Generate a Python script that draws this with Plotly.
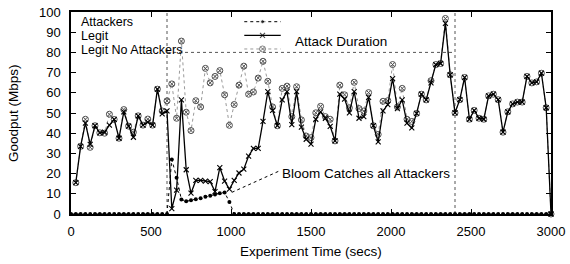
import plotly.graph_objects as go

# ---------------- data ----------------
time_attackers = [0, 30, 60, 90, 120, 150, 180, 210, 240, 270, 300, 330, 360, 390, 420, 450, 480, 510, 540, 570,
                  600, 630, 660, 690, 720, 750, 780, 810, 840, 870, 900, 930, 960, 990, 1020, 1050, 1080, 1110,
                  1140, 1170, 1200, 1230, 1260, 1290, 1320, 1350, 1380, 1410, 1440, 1470, 1500, 1530, 1560, 1590,
                  1620, 1650, 1680, 1710, 1740, 1770, 1800, 1830, 1860, 1890, 1920, 1950, 1980, 2010, 2040, 2070,
                  2100, 2130, 2160, 2190, 2220, 2250, 2280, 2310, 2340, 2370, 2400, 2430, 2460, 2490, 2520, 2550,
                  2580, 2610, 2640, 2670, 2700, 2730, 2760, 2790, 2820, 2850, 2880, 2910, 2940, 2970, 3000]
attackers = [0, 0, 0, 0, 0, 0, 0, 0, 0, 0, 0, 0, 0, 0, 0, 0, 0, 0, 0, 0,
             0, 27, 18, 7.2, 6.3, 6.8, 7.3, 7.8, 8.5, 9.0, 9.7, 10.3, 10.7, 6.0, 0, 0, 0, 0,
             0, 0, 0, 0, 0, 0, 0, 0, 0, 0, 0, 0, 0, 0, 0, 0,
             0, 0, 0, 0, 0, 0, 0, 0, 0, 0, 0, 0, 0, 0, 0, 0,
             0, 0, 0, 0, 0, 0, 0, 0, 0, 0, 0, 0, 0, 0, 0, 0,
             0, 0, 0, 0, 0, 0, 0, 0, 0, 0, 0, 0, 0, 0, 0]

time_legit = [30, 60, 90, 120, 150, 180, 210, 240, 270, 300, 330, 360, 390, 420, 450, 480, 510, 540, 570,
              600, 630, 660, 690, 720, 750, 780, 810, 840, 870, 900, 930, 960, 990, 1020, 1050, 1080, 1110,
              1140, 1170, 1200, 1230, 1260, 1290, 1320, 1350, 1380, 1410, 1440, 1470, 1500, 1530, 1560, 1590,
              1620, 1650, 1680, 1710, 1740, 1770, 1800, 1830, 1860, 1890, 1920, 1950, 1980, 2010, 2040, 2070,
              2100, 2130, 2160, 2190, 2220, 2250, 2280, 2310, 2340, 2370, 2400, 2430, 2460, 2490, 2520, 2550,
              2580, 2610, 2640, 2670, 2700, 2730, 2760, 2790, 2820, 2850, 2880, 2910, 2940, 2970, 3000]
legit = [15.5, 33.5, 45, 34.5, 43.7, 40.2, 40.5, 44, 46.8, 37.5, 50.6, 43.5, 38, 48.6, 44, 45.5, 44, 61.8, 49.6,
         51, 2.7, 11.8, 56.5, 21.9, 10.3, 16.6, 16.6, 16.3, 16, 11.1, 23, 16.3, 12.3, 16.6, 20.3, 22.2, 28.7,
         32.5, 32.5, 45.8, 60.6, 51.3, 43.7, 56.5, 60.6, 44.2, 60.6, 43, 37, 34.6, 46.9, 50.6, 47.4,
         43.4, 36.2, 59.3, 56.9, 50.1, 60.6, 47.4, 48.2, 57.7, 43.7, 35.7, 51, 54.2, 67, 52.2, 56.5,
         45, 42.6, 49.8, 59.3, 56.5, 64.9, 74, 74.5, 94.4, 68.9, 50.1, 56.6, 67.6, 46.9, 51.3, 47.4,
         46.9, 58.5, 59.3, 56.6, 40.5, 50.6, 54.5, 55.4, 55.4, 68.1, 64.9, 65.4, 69.7, 52.6, 0]
legit_no_attackers = [15.5, 33.5, 46.9, 33, 43.7, 40.2, 40, 49.4, 46.8, 37.5, 51.7, 43.5, 40.5, 48.6, 44, 47, 44, 61.8, 51,
                      56, 64.4, 47.4, 85.6, 50.4, 41.3, 56.1, 53, 72.1, 64.9, 68.1, 71, 59, 43.9, 54.2, 63.8, 73.2, 59.3,
                      60.4, 67.3, 75.6, 65.7, 53, 43.7, 62.2, 63.3, 48.2, 63, 46.6, 38.6, 37.8, 50.1, 53.3, 48.2,
                      46.9, 36.2, 63.8, 59, 52.6, 65.2, 52.2, 51, 60.1, 43.7, 39.4, 55.8, 56.1, 74, 53, 62.2,
                      46.9, 45.8, 49.8, 59.3, 56.5, 66, 74, 74.5, 96.8, 68.9, 50.1, 56.6, 67.6, 46.9, 51.3, 47.4,
                      46.9, 58.5, 59.3, 56.6, 40.5, 50.6, 54.5, 55.4, 55.4, 68.1, 64.9, 65.4, 69.7, 52.6, 0]

series_names = ["Attackers", "Legit", "Legit No Attackers"]
x_ticks = [0, 500, 1000, 1500, 2000, 2500, 3000]
y_ticks = [0, 10, 20, 30, 40, 50, 60, 70, 80, 90, 100]
attack_start = 600
attack_end = 2400
attack_level = 80
bloom_point = (1005, 10.7)
x_title = "Experiment Time (secs)"
y_title = "Goodput (Mbps)"

FONT = "Liberation Sans, Arial, Helvetica, sans-serif"
GRAY_LINE = "#9a9a9a"
GRAY_MARK = "#505050"

fig = go.Figure()

# Legit No Attackers (gray)
fig.add_trace(go.Scatter(x=time_legit, y=legit_no_attackers, mode="lines+markers",
                         line=dict(color=GRAY_LINE, width=1, dash="dot"),
                         marker=dict(symbol="circle-x-open", size=6, color=GRAY_MARK, line=dict(width=1)),
                         cliponaxis=False, name=series_names[2]))
# Legit
fig.add_trace(go.Scatter(x=time_legit, y=legit, mode="lines+markers",
                         line=dict(color="black", width=1.3),
                         marker=dict(symbol="x-thin", size=5, color="black", line=dict(width=1.1, color="black")),
                         cliponaxis=False, name=series_names[1]))
# Attackers
fig.add_trace(go.Scatter(x=time_attackers, y=attackers, mode="lines+markers",
                         line=dict(color="black", width=1, dash="dot"),
                         marker=dict(symbol="circle", size=4, color="black"),
                         cliponaxis=False, name=series_names[0]))

# Legend samples on an overlay axis in plot-fraction coordinates
lx0, lxm, lx1 = 0.361, 0.399, 0.437
ly = [0.952, 0.884, 0.817]
fig.add_trace(go.Scatter(x=[lx0, lxm, lx1], y=[ly[0]] * 3, xaxis="x2", yaxis="y2", mode="lines+markers",
                         line=dict(color="black", width=1, dash="dot"),
                         marker=dict(symbol="circle", size=[0, 4, 0], color="black"), cliponaxis=False))
fig.add_trace(go.Scatter(x=[lx0, lxm, lx1], y=[ly[1]] * 3, xaxis="x2", yaxis="y2", mode="lines+markers",
                         line=dict(color="black", width=1.3),
                         marker=dict(symbol="x-thin", size=[0, 5, 0], color="black", line=dict(width=1.1, color="black")),
                         cliponaxis=False))
fig.add_trace(go.Scatter(x=[lx0, lxm, lx1], y=[ly[2]] * 3, xaxis="x2", yaxis="y2", mode="lines+markers",
                         line=dict(color=GRAY_LINE, width=1, dash="dot"),
                         marker=dict(symbol="circle-x-open", size=[0, 6, 0], color=GRAY_MARK, line=dict(width=1)),
                         cliponaxis=False))

# Attack duration markers
dur_line = dict(color="#555555", width=1, dash="dot")
fig.add_shape(type="line", x0=attack_start, x1=attack_start, y0=0, y1=100, xref="x", yref="y", line=dur_line, layer="below")
fig.add_shape(type="line", x0=attack_end, x1=attack_end, y0=0, y1=100, xref="x", yref="y", line=dur_line, layer="below")
fig.add_shape(type="line", x0=attack_start, x1=attack_end, y0=attack_level, y1=attack_level, xref="x", yref="y",
              line=dur_line, layer="below")

# Bloom annotation with dotted pointer
fig.add_shape(type="line", x0=bloom_point[0], y0=bloom_point[1], x1=1296, y1=21.1, xref="x", yref="y",
              line=dict(color="black", width=1, dash="dot"))
fig.add_annotation(x=1305, y=20.2, xref="x", yref="y", text="Bloom Catches all Attackers", showarrow=False,
                   xanchor="left", yanchor="middle", font=dict(size=13.5))
fig.add_annotation(x=1390, y=85.3, xref="x", yref="y", text="Attack Duration", showarrow=False,
                   xanchor="left", yanchor="middle", font=dict(size=13.5))

# legend labels
for name, yy in zip(series_names, [0.952, 0.883, 0.810]):
    fig.add_annotation(x=0.0166, y=yy, xref="paper", yref="paper", text=name, showarrow=False,
                       xanchor="left", yanchor="middle", font=dict(size=12.5))

# axis titles
fig.add_annotation(x=0.5, y=0, xref="paper", yref="paper", text=x_title, showarrow=False,
                   xanchor="center", yanchor="middle", yshift=-37, font=dict(size=13.5))
fig.add_annotation(x=0, y=0.5, xref="paper", yref="paper", text=y_title, showarrow=False, textangle=-90,
                   xanchor="center", yanchor="middle", xshift=-58, font=dict(size=13.5))

axis_common = dict(showline=True, linecolor="black", linewidth=1.5, mirror="ticks", ticks="inside",
                   ticklen=5, tickwidth=1, tickcolor="black", showgrid=False, zeroline=False,
                   ticklabeloverflow="allow",
                   tickfont=dict(size=13, family=FONT, color="black"))
fig.update_layout(
    width=570, height=264, margin=dict(l=71, r=17, t=5, b=50),
    paper_bgcolor="white", plot_bgcolor="white", showlegend=False,
    font=dict(family=FONT, size=13, color="black"),
    xaxis=dict(range=[0, 3000], tickvals=x_ticks, ticklabelstandoff=5, **axis_common),
    yaxis=dict(range=[0, 100], tickvals=y_ticks, ticklabelstandoff=6, **axis_common),
    xaxis2=dict(overlaying="x", range=[0, 1], visible=False),
    yaxis2=dict(overlaying="y", range=[0, 1], visible=False),
)

fig.write_html("out.html", config={"displayModeBar": False},
               post_script="document.body.style.margin='0px';")
